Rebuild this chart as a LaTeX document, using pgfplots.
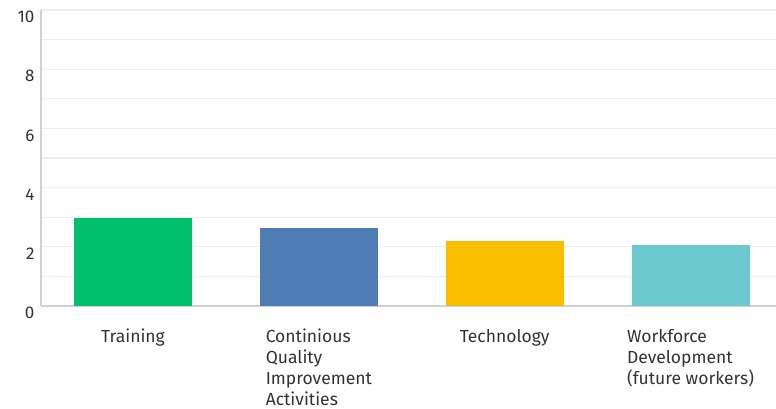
\documentclass[border=0pt]{standalone}
\usepackage{pgfplots}
\pgfplotsset{compat=1.18}
\usepackage{fontspec}
\setmainfont{Fira Sans}

\definecolor{smgreen}{HTML}{00BF6F}
\definecolor{smblue}{HTML}{507CB6}
\definecolor{smyellow}{HTML}{F9BE00}
\definecolor{smteal}{HTML}{6BC8CD}
\definecolor{gridgray}{HTML}{EDEDED}
\definecolor{axisgray}{HTML}{D0D0D0}
\definecolor{labelgray}{HTML}{333333}

\begin{document}
\begin{tikzpicture}
\begin{axis}[
    name=ax,
    at={(0,0)}, anchor=south west,
    scale only axis,
    width=735pt, height=296pt,
    ybar, bar width=118pt, bar shift=0pt,
    xmin=-0.495, xmax=3.46,
    ymin=0, ymax=10,
    xtick={0,1,2,3},
    xticklabels={Training, Continious\\Quality\\Improvement\\Activities, Technology, Workforce\\Development\\(future workers)},
    xticklabel style={align=left, anchor=north, yshift=-19.5pt, text=labelgray,
        font=\fontsize{17.5}{21}\selectfont},
    ytick={0,2,...,10},
    minor ytick={1,3,...,9},
    yticklabel style={yshift=-7pt, xshift=-3pt, text=labelgray,
        font=\fontsize{17}{18}\selectfont},
    /pgf/number format/assume math mode=true,
    ymajorgrids, yminorgrids,
    major grid style={gridgray, line width=1.2pt},
    minor grid style={gridgray, line width=1.2pt},
    major tick length=0pt, minor tick length=0pt,
    axis x line*=bottom, axis y line*=left,
    axis line style={axisgray, line width=1.2pt},
    x axis line style={-}, y axis line style={-},
    clip=false,
]
\addplot[fill=smgreen, draw=none] coordinates {(0,2.97)};
\addplot[fill=smblue, draw=none] coordinates {(1,2.62)};
\addplot[fill=smyellow, draw=none] coordinates {(2,2.19)};
\addplot[fill=smteal, draw=none] coordinates {(3,2.07)};
\end{axis}
\pgfresetboundingbox
\path[use as bounding box] (-41pt,-102pt) rectangle (735pt,306pt);
\end{tikzpicture}
\end{document}
